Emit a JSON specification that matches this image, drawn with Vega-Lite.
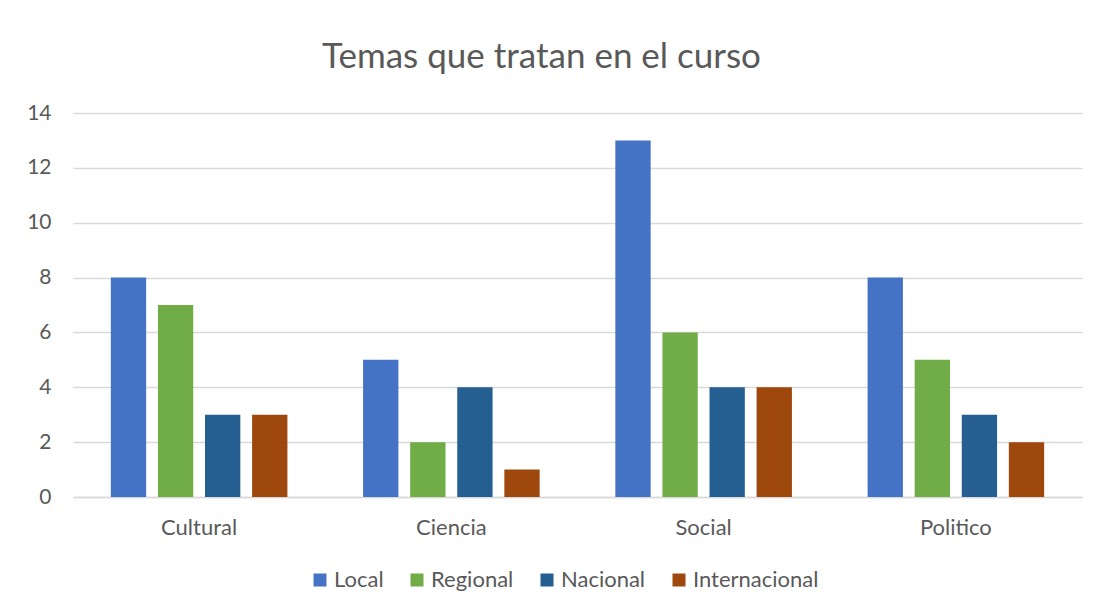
{
  "$schema": "https://vega.github.io/schema/vega-lite/v6.json",
  "width": 1009,
  "height": 384,
  "autosize": {"type": "none"},
  "padding": {"left": 73, "top": 113, "right": 15, "bottom": 116},
  "background": "#ffffff",
  "title": {
    "text": "Temas que tratan en el curso",
    "font": "Lato",
    "fontSize": 35,
    "fontWeight": "normal",
    "color": "#595959",
    "anchor": "middle",
    "dx": -36,
    "offset": 27
  },
  "data": {
    "values": [
      {"tema": "Cultural", "nivel": "Local", "valor": 8},
      {"tema": "Cultural", "nivel": "Regional", "valor": 7},
      {"tema": "Cultural", "nivel": "Nacional", "valor": 3},
      {"tema": "Cultural", "nivel": "Internacional", "valor": 3},
      {"tema": "Ciencia", "nivel": "Local", "valor": 5},
      {"tema": "Ciencia", "nivel": "Regional", "valor": 2},
      {"tema": "Ciencia", "nivel": "Nacional", "valor": 4},
      {"tema": "Ciencia", "nivel": "Internacional", "valor": 1},
      {"tema": "Social", "nivel": "Local", "valor": 13},
      {"tema": "Social", "nivel": "Regional", "valor": 6},
      {"tema": "Social", "nivel": "Nacional", "valor": 4},
      {"tema": "Social", "nivel": "Internacional", "valor": 4},
      {"tema": "Politico", "nivel": "Local", "valor": 8},
      {"tema": "Politico", "nivel": "Regional", "valor": 5},
      {"tema": "Politico", "nivel": "Nacional", "valor": 3},
      {"tema": "Politico", "nivel": "Internacional", "valor": 2}
    ]
  },
  "mark": {"type": "bar"},
  "encoding": {
    "x": {
      "field": "tema",
      "type": "nominal",
      "sort": ["Cultural", "Ciencia", "Social", "Politico"],
      "scale": {"paddingInner": 0.3, "paddingOuter": 0.15},
      "axis": {
        "title": null,
        "labelAngle": 0,
        "labelFont": "Lato",
        "labelFontSize": 22,
        "labelColor": "#595959",
        "labelPadding": 20,
        "ticks": false,
        "domain": true,
        "domainColor": "#d9d9d9",
        "domainWidth": 1.5,
        "grid": false
      }
    },
    "xOffset": {
      "field": "nivel",
      "type": "nominal",
      "sort": ["Local", "Regional", "Nacional", "Internacional"],
      "scale": {"paddingInner": 0.25, "paddingOuter": 0}
    },
    "y": {
      "field": "valor",
      "type": "quantitative",
      "scale": {"domain": [0, 14], "nice": false},
      "axis": {
        "title": null,
        "values": [0, 2, 4, 6, 8, 10, 12, 14],
        "labelFont": "Lato",
        "labelFontSize": 21,
        "labelColor": "#595959",
        "labelPadding": 22,
        "ticks": false,
        "domain": false,
        "grid": true,
        "gridColor": "#d9d9d9",
        "gridWidth": 1.5
      }
    },
    "color": {
      "field": "nivel",
      "type": "nominal",
      "sort": ["Local", "Regional", "Nacional", "Internacional"],
      "scale": {
        "domain": ["Local", "Regional", "Nacional", "Internacional"],
        "range": ["#4472C4", "#70AD47", "#255E91", "#9E480E"]
      },
      "legend": {
        "title": null,
        "orient": "none",
        "direction": "horizontal",
        "legendX": 236,
        "legendY": 456,
        "symbolType": "square",
        "symbolSize": 169,
        "symbolStrokeWidth": 0,
        "labelFont": "Lato",
        "labelFontSize": 22,
        "labelColor": "#595959",
        "labelOffset": 3,
        "columnPadding": 22
      }
    }
  },
  "config": {
    "view": {"stroke": null}
  }
}
